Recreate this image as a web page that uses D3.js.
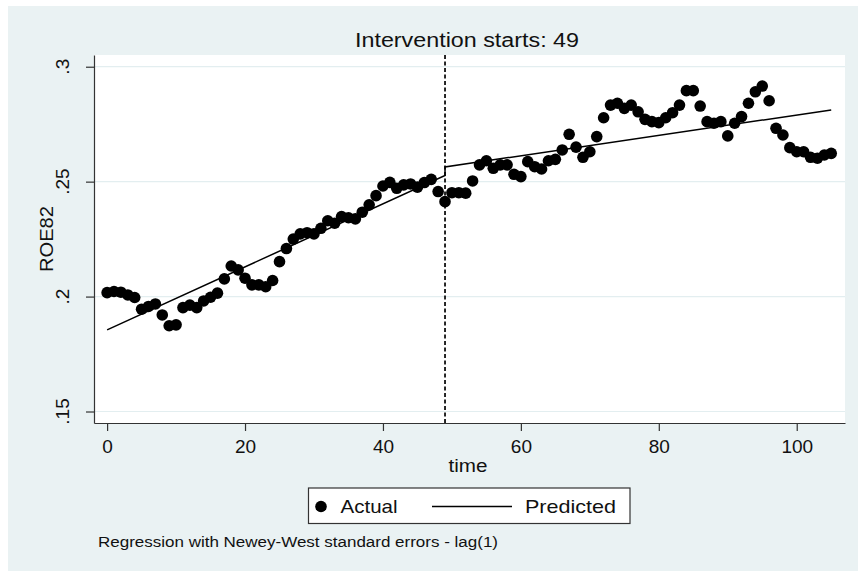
<!DOCTYPE html>
<html>
<head>
<meta charset="utf-8">
<script src="https://cdn.jsdelivr.net/npm/d3@7"></script>
<style>
  body { margin: 0; background: #ffffff; }
  svg { display: block; font-family: "Liberation Sans", Arial, sans-serif; }
</style>
</head>
<body>
<div id="chart"></div>
<script>
// ROE82 observed values, time 0..105
const actual = [
  0.2017, 0.2022, 0.2019, 0.2007, 0.1996, 0.1945, 0.1957, 0.1968, 0.1920, 0.1873,
  0.1877, 0.1952, 0.1963, 0.1952, 0.1981, 0.1997, 0.2015, 0.2077, 0.2133, 0.2116,
  0.2080, 0.2051, 0.2051, 0.2043, 0.2070, 0.2152, 0.2209, 0.2250, 0.2273, 0.2278,
  0.2273, 0.2297, 0.2330, 0.2319, 0.2348, 0.2343, 0.2338, 0.2367, 0.2399, 0.2439,
  0.2481, 0.2497, 0.2471, 0.2486, 0.2490, 0.2476, 0.2496, 0.2510, 0.2457, 0.2413,
  0.2452, 0.2452, 0.2450, 0.2503, 0.2573, 0.2591, 0.2558, 0.2573, 0.2573, 0.2532,
  0.2522, 0.2587, 0.2565, 0.2555, 0.2591, 0.2597, 0.2638, 0.2706, 0.2650, 0.2606,
  0.2630, 0.2696, 0.2778, 0.2833, 0.2841, 0.2819, 0.2833, 0.2804, 0.2771, 0.2761,
  0.2757, 0.2778, 0.2800, 0.2833, 0.2896, 0.2896, 0.2829, 0.2761, 0.2754, 0.2761,
  0.2699, 0.2754, 0.2783, 0.2841, 0.2891, 0.2916, 0.2852, 0.2732, 0.2703, 0.2648,
  0.2630, 0.2630, 0.2606, 0.2602, 0.2616, 0.2623
];
const time = d3.range(actual.length);

// fitted segments (before / after the intervention)
const predTime  = [0, 49, 49, 105];
const predValue = [0.1855, 0.2527, 0.2564, 0.2812];

const intervention = 49;
const xTicks = [0, 20, 40, 60, 80, 100];
const yTicks = [0.15, 0.2, 0.25, 0.3];
const yTickLabels = [".15", ".2", ".25", ".3"];

const W = 864, H = 571;
const plot = { left: 94, right: 845, top: 55, bottom: 423 };

const svg = d3.select("#chart").append("svg")
    .attr("width", W)
    .attr("height", H);

// graph region
svg.append("rect")
    .attr("x", 8).attr("y", 6)
    .attr("width", 850).attr("height", H - 6)
    .attr("fill", "#eaf2f3");

svg.append("rect")
    .attr("x", plot.left).attr("y", plot.top)
    .attr("width", plot.right - plot.left).attr("height", plot.bottom - plot.top)
    .attr("fill", "#ffffff");

const x = d3.scaleLinear().domain([-1.9, 107]).range([plot.left, plot.right]);
const y = d3.scaleLinear().domain([0.145, 0.3051]).range([plot.bottom, plot.top]);

// grid
svg.append("g").selectAll("line")
  .data(yTicks)
  .enter().append("line")
    .attr("x1", plot.left).attr("x2", plot.right)
    .attr("y1", d => y(d)).attr("y2", d => y(d))
    .attr("stroke", "#e3eef0")
    .attr("stroke-width", 1.2);

// axes
svg.append("g")
    .attr("transform", "translate(" + plot.left + ",0)")
    .call(d3.axisLeft(y).tickValues(yTicks).tickSize(8).tickSizeOuter(0).tickFormat(""));

const xAxis = svg.append("g")
    .attr("transform", "translate(0," + plot.bottom + ")")
    .call(d3.axisBottom(x).tickValues(xTicks).tickSize(8).tickSizeOuter(0).tickPadding(9));

svg.selectAll(".domain, .tick line").attr("stroke", "#333").attr("stroke-width", 1.2);
xAxis.selectAll("text")
    .attr("fill", "#111")
    .style("font-size", "19px");

svg.append("g").selectAll("text")
  .data(yTicks)
  .enter().append("text")
    .attr("transform", d => "translate(69," + y(d) + ") rotate(-90)")
    .attr("text-anchor", "middle")
    .attr("fill", "#111")
    .style("font-size", "19px")
    .text((d, i) => yTickLabels[i]);

// intervention line
svg.append("line")
    .attr("x1", x(intervention)).attr("x2", x(intervention))
    .attr("y1", plot.top).attr("y2", plot.bottom)
    .attr("stroke", "#111")
    .attr("stroke-width", 1.8)
    .attr("stroke-dasharray", "4,2.5");

// predicted
const line = d3.line()
    .x((d, i) => x(predTime[i]))
    .y(d => y(d));

svg.append("path")
    .datum(predValue)
    .attr("d", line)
    .attr("fill", "none")
    .attr("stroke", "#000")
    .attr("stroke-width", 1.5);

// actual
svg.append("g").selectAll("circle")
  .data(actual)
  .enter().append("circle")
    .attr("cx", (d, i) => x(time[i]))
    .attr("cy", d => y(d))
    .attr("r", 5.8)
    .attr("fill", "#000");

// titles
svg.append("text")
    .attr("x", 467).attr("y", 47)
    .attr("text-anchor", "middle")
    .attr("textLength", 224).attr("lengthAdjust", "spacingAndGlyphs")
    .style("font-size", "20px")
    .attr("fill", "#111")
    .text("Intervention starts: 49");

svg.append("text")
    .attr("x", 468).attr("y", 472)
    .attr("text-anchor", "middle")
    .attr("textLength", 39).attr("lengthAdjust", "spacingAndGlyphs")
    .style("font-size", "18px")
    .attr("fill", "#111")
    .text("time");

svg.append("text")
    .attr("transform", "translate(53," + ((plot.top + plot.bottom) / 2) + ") rotate(-90)")
    .attr("text-anchor", "middle")
    .attr("textLength", 66).attr("lengthAdjust", "spacingAndGlyphs")
    .style("font-size", "19px")
    .attr("fill", "#111")
    .text("ROE82");

// legend
const legend = svg.append("g");
legend.append("rect")
    .attr("x", 308.5).attr("y", 488)
    .attr("width", 321.5).attr("height", 35.5)
    .attr("fill", "#fff")
    .attr("stroke", "#333")
    .attr("stroke-width", 1.2);
legend.append("circle")
    .attr("cx", 321).attr("cy", 506.5).attr("r", 5.8).attr("fill", "#000");
legend.append("text")
    .attr("x", 340.5).attr("y", 513)
    .attr("textLength", 57).attr("lengthAdjust", "spacingAndGlyphs")
    .style("font-size", "19px").attr("fill", "#111")
    .text("Actual");
legend.append("line")
    .attr("x1", 432).attr("x2", 512)
    .attr("y1", 506.5).attr("y2", 506.5)
    .attr("stroke", "#000").attr("stroke-width", 1.5);
legend.append("text")
    .attr("x", 525).attr("y", 513)
    .attr("textLength", 91).attr("lengthAdjust", "spacingAndGlyphs")
    .style("font-size", "19px").attr("fill", "#111")
    .text("Predicted");

// note
svg.append("text")
    .attr("x", 98).attr("y", 547)
    .attr("textLength", 400).attr("lengthAdjust", "spacingAndGlyphs")
    .style("font-size", "14px").attr("fill", "#111")
    .text("Regression with Newey-West standard errors - lag(1)");
</script>
</body>
</html>
